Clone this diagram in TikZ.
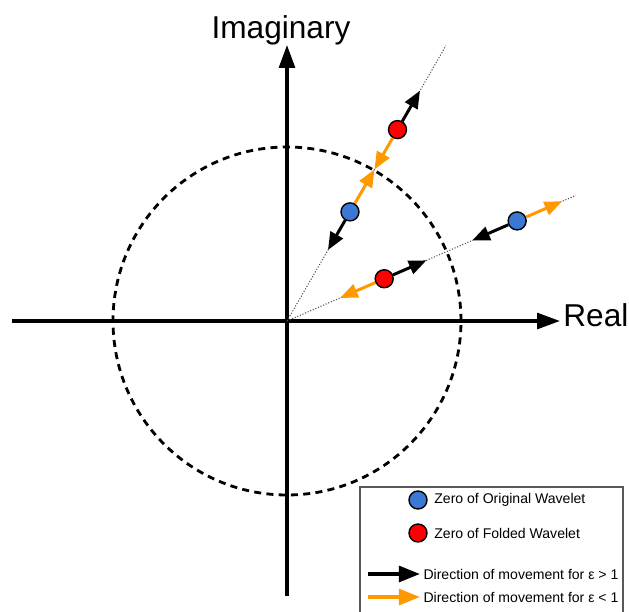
\documentclass[tikz,border=0pt]{standalone}
\usepackage{fontspec}
\setmainfont{Liberation Sans}
\usetikzlibrary{arrows.meta}
\definecolor{zeroblue}{RGB}{58,120,212}
\definecolor{moveorange}{RGB}{255,153,0}
\tikzset{
  axis/.style={line width=1.8pt, -{Triangle[length=13pt,width=9pt]}},
  move/.style={line width=1.7pt, -{Triangle[length=10pt,width=8pt]}},
  legmove/.style={line width=2pt, -{Triangle[length=12pt,width=9pt]}},
  ray/.style={gray!60!black, densely dotted, line width=0.6pt},
  zero/.style={circle, draw=black, line width=0.8pt, minimum size=0.36cm, inner sep=0pt},
  axlabel/.style={font=\fontsize{18}{20}\selectfont, inner sep=0pt},
  legtext/.style={font=\fontsize{8}{9}\selectfont, anchor=west, inner sep=0pt}
}
\begin{document}
\begin{tikzpicture}[x=0.02cm, y=0.02cm]
  \useasboundingbox (-287,-291) rectangle (342,321);
  \coordinate (O) at (0,0);
  % axes
  \draw[axis] (-275,0) -- (273,0);
  \draw[axis] (0,-275) -- (0,276);
  \node[axlabel, anchor=base] (imag) at (-6,282) {Imaginary};
  \node[axlabel, anchor=base west] (real) at (276,-6) {Real};
  % unit circle
  \draw[line width=1.6pt, dash pattern=on 4pt off 3pt] (O) circle (174);
  % rays
  \draw[ray] (O) -- (60:318);
  \draw[ray] (O) -- (23.5:315);
  % zeros on the first ray
  \node[zero, fill=zeroblue] (b1) at (60:126) {};
  \node[zero, fill=red] (r1) at (60:221) {};
  \draw[move] (b1) -- (60:82);
  \draw[move] (r1) -- (60:266);
  \draw[move, moveorange] (b1) -- (60:175);
  \draw[move, moveorange] (r1) -- (60:175);
  % zeros on the second ray
  \node[zero, fill=zeroblue] (b2) at (23.5:251) {};
  \node[zero, fill=red] (r2) at (23.5:106) {};
  \draw[move] (b2) -- (23.5:202);
  \draw[move] (r2) -- (23.5:152);
  \draw[move, moveorange] (b2) -- (23.5:300);
  \draw[move, moveorange] (r2) -- (23.5:58);
  % legend
  \draw[gray!70!black, line width=0.8pt] (73,-295) |- (336,-166) -- (336,-295);
  \node[zero, fill=zeroblue] (lb) at (131,-179) {};
  \node[legtext] at (147,-179) {Zero of Original Wavelet};
  \node[zero, fill=red] (lr) at (131,-212) {};
  \node[legtext] at (147,-212) {Zero of Folded Wavelet};
  \draw[legmove] (81,-253) -- (133,-253) node[legtext, right=1pt] {Direction of movement for ε > 1};
  \draw[legmove, moveorange] (81,-276) -- (133,-276) node[legtext, right=1pt, black] {Direction of movement for ε < 1};
\end{tikzpicture}
\end{document}
